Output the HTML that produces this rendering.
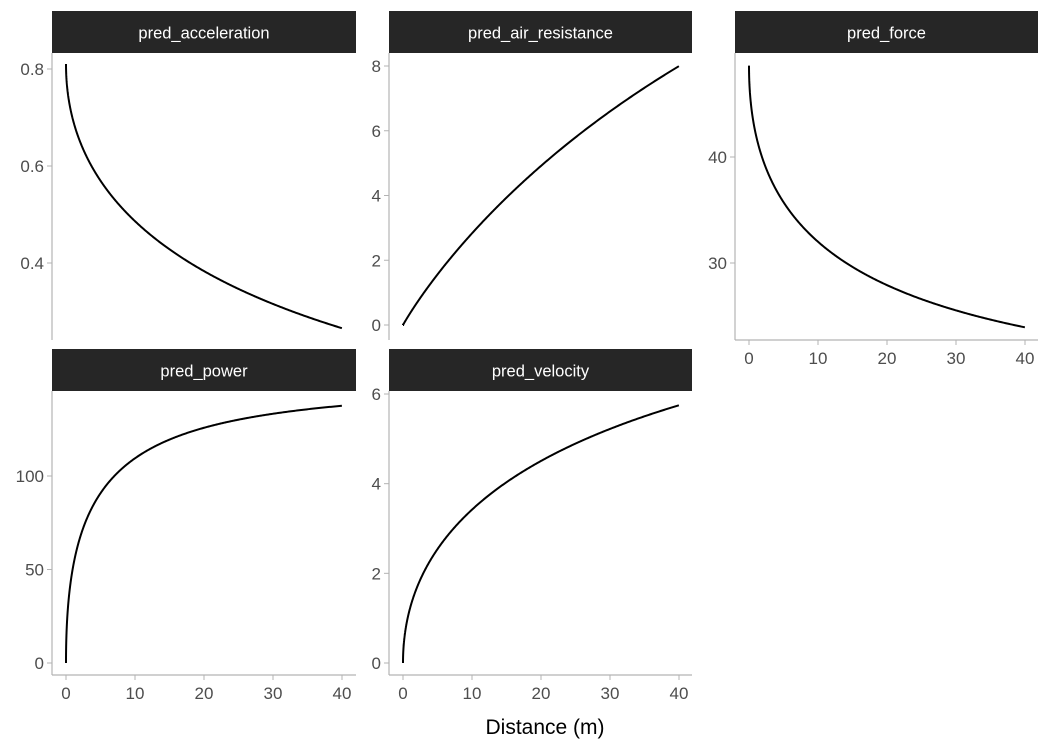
<!DOCTYPE html>
<html><head><meta charset="utf-8"><style>
body{margin:0;background:#fff}
svg text{font-family:"Liberation Sans",sans-serif}
</style></head><body>
<svg id="s" width="1050" height="750" xmlns="http://www.w3.org/2000/svg"></svg>
<script>
const S=document.getElementById('s');let h='';
const MSS=8.55,TAU=10.55,M=60,K=0.242;
const pts=[];
for(let i=0;i<=600;i++){const t=11.8*Math.pow(i/600,1.6);const e=Math.exp(-t/TAU);const d=MSS*(t+TAU*e-TAU);if(d>40)break;const v=MSS*(1-e);const a=(MSS-v)/TAU;const air=K*v*v;const F=M*a+air;pts.push({d,v,a,air,F,P:F*v});}
const panels=[
 {x0:52,x1:356,y0:11,y1:340,key:'a',name:'pred_acceleration',ya:[0.8,69,0.4,263],ticks:[0.4,0.6,0.8],fmt:v=>v.toFixed(1),xaxis:false},
 {x0:389,x1:692,y0:11,y1:340,key:'air',name:'pred_air_resistance',ya:[8,66,0,325],ticks:[0,2,4,6,8],fmt:v=>v,xaxis:false},
 {x0:735,x1:1038,y0:11,y1:340,key:'F',name:'pred_force',ya:[40,157,30,263],ticks:[30,40],fmt:v=>v,xaxis:true},
 {x0:52,x1:356,y0:349,y1:675,key:'P',name:'pred_power',ya:[100,476,0,663],ticks:[0,50,100],fmt:v=>v,xaxis:true},
 {x0:389,x1:692,y0:349,y1:675,key:'v',name:'pred_velocity',ya:[6,394,0,663],ticks:[0,2,4,6],fmt:v=>v,xaxis:true}];
const ac='#b3b3b3',tc='#4d4d4d';
panels.forEach(p=>{
 const xz=p.x0+14,xs=276/40;
 const Y=v=>p.ya[1]+(v-p.ya[0])*(p.ya[3]-p.ya[1])/(p.ya[2]-p.ya[0]);
 h+=`<rect x="${p.x0}" y="${p.y0}" width="${p.x1-p.x0}" height="42" fill="#262626"/>`;
 h+=`<text x="${(p.x0+p.x1)/2}" y="${p.y0+27.5}" fill="#fff" font-size="16.5" text-anchor="middle">${p.name}</text>`;
 h+=`<line x1="${p.x0}" y1="${p.y0+42}" x2="${p.x0}" y2="${p.y1}" stroke="${ac}" stroke-width="1.2"/>`;
 p.ticks.forEach(t=>{const y=Y(t);h+=`<line x1="${p.x0-5}" y1="${y}" x2="${p.x0}" y2="${y}" stroke="${ac}"/><text x="${p.x0-8}" y="${y+6}" fill="${tc}" font-size="17" text-anchor="end">${p.fmt(t)}</text>`;});
 if(p.xaxis){h+=`<line x1="${p.x0}" y1="${p.y1}" x2="${p.x1}" y2="${p.y1}" stroke="${ac}" stroke-width="1.2"/>`;
  [0,10,20,30,40].forEach(t=>{const x=xz+t*xs;h+=`<line x1="${x}" y1="${p.y1}" x2="${x}" y2="${p.y1+5}" stroke="${ac}"/><text x="${x}" y="${p.y1+24}" fill="${tc}" font-size="17" text-anchor="middle">${t}</text>`;});}
 const d=pts.map((q,i)=>(i?'L':'M')+(xz+q.d*xs).toFixed(2)+','+Y(q[p.key]).toFixed(2)).join('');
 h+=`<path d="${d}" fill="none" stroke="#000" stroke-width="2"/>`;
});
h+=`<text x="545" y="734" fill="#000" font-size="21" text-anchor="middle">Distance (m)</text>`;
S.innerHTML=h;
</script>
</body></html>
